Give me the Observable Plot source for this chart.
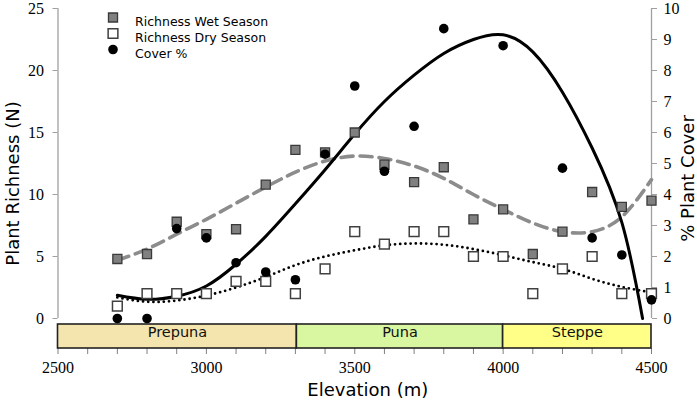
<!DOCTYPE html>
<html><head><meta charset="utf-8">
<script src="https://cdn.jsdelivr.net/npm/d3@7"></script>
<script src="https://cdn.jsdelivr.net/npm/@observablehq/plot@0.6"></script>
<style>body{margin:0;background:#fff}#chart{width:697px;height:408px}</style>
</head><body><div id="chart"></div>
<script>
// ---- data ----
const elevation    = [2700, 2800, 2900, 3000, 3100, 3200, 3300, 3400, 3500, 3600, 3700, 3800, 3900, 4000, 4100, 4200, 4300, 4400, 4500];
const richnessWet  = [4.8, 5.2, 7.8, 6.8, 7.2, 10.8, 13.6, 13.4, 15.0, 12.4, 11.0, 12.2, 8.0, 8.8, 5.2, 7.0, 10.2, 9.0, 9.5];
const richnessDry  = [1, 2, 2, 2, 3, 3, 2, 4, 7, 6, 7, 7, 5, 5, 2, 4, 5, 2, 2];
const coverPct     = [0, 0, 2.9, 2.6, 1.8, 1.5, 1.25, 5.3, 7.5, 4.75, 6.2, 9.35, null, 8.8, null, 4.85, 2.6, 2.05, 0.6];

// trend lines
const trendElevation = [2700, 2800, 2900, 3000, 3100, 3200, 3300, 3400, 3500, 3600, 3700, 3800, 3900, 4000, 4100, 4200, 4300, 4400, 4500];
const wetTrend   = [4.7, 5.6, 6.8, 8.0, 9.3, 10.6, 11.8, 12.7, 13.1, 12.9, 12.3, 11.3, 10.0, 8.8, 7.7, 7.0, 7.0, 8.2, 11.2];
const dryTrend   = [1.7, 1.35, 1.45, 1.85, 2.5, 3.35, 4.3, 5.0, 5.5, 5.9, 6.05, 5.95, 5.6, 5.1, 4.55, 4.0, 3.2, 2.55, 2.1];
const coverTrendElevation = [2700, 2800, 2900, 3000, 3100, 3200, 3300, 3400, 3500, 3600, 3700, 3800, 3900, 4000, 4100, 4200, 4300, 4400, 4470];
const coverTrend = [0.75, 0.62, 0.72, 1.05, 1.75, 2.65, 3.7, 4.8, 5.95, 7.0, 7.85, 8.55, 9.0, 9.15, 8.6, 7.3, 5.5, 3.1, 0];

// vegetation zones
const zoneNames  = ["Prepuna", "Puna", "Steppe"];
const zoneStart  = [2500, 3305, 4000];
const zoneEnd    = [3305, 4000, 4500];
const zoneColors = ["#f4e4ae", "#d9f6a0", "#ffff88"];

// axes
const xDomain = [2500, 4500];
const xTicks = [2500, 3000, 3500, 4000, 4500];
const xMinorTicks = [2500, 2600, 2700, 2800, 2900, 3000, 3100, 3200, 3300, 3400, 3500, 3600, 3700, 3800, 3900, 4000, 4100, 4200, 4300, 4400, 4500];
const richnessDomain = [0, 25];
const richnessTicks = [0, 5, 10, 15, 20, 25];
const coverDomain = [0, 10];
const coverTicks = [0, 1, 2, 3, 4, 5, 6, 7, 8, 9, 10];

const legendLabels = ["Richness Wet Season", "Richness Dry Season", "Cover %"];

// ---- build ----
const k = richnessDomain[1] / coverDomain[1]; // cover -> richness units
const pts = elevation.map((e, i) => ({e, wet: richnessWet[i], dry: richnessDry[i], cover: coverPct[i]}));
const wetLine = trendElevation.map((e, i) => ({e, v: wetTrend[i]}));
const dryLine = trendElevation.map((e, i) => ({e, v: dryTrend[i]}));
const coverLine = coverTrendElevation.map((e, i) => ({e, v: coverTrend[i] * k}));
const zones = zoneNames.map((n, i) => ({name: n, x1: zoneStart[i], x2: zoneEnd[i], color: zoneColors[i]}));

const wetStyle  = {symbol: "square", r: 5.1, fill: "#808080", stroke: "#3a3a3a", strokeWidth: 1.3};
const dryStyle  = {symbol: "square", r: 5.5, fill: "#ffffff", stroke: "#404040", strokeWidth: 1.5};
const covStyle  = {symbol: "circle", r: 4.8, fill: "#000000", stroke: "none"};
const legendStyles = [wetStyle, dryStyle, covStyle];

const serif = "Liberation Serif, DejaVu Serif, serif";
const sans = "DejaVu Sans, Verdana, sans-serif";

const legendMarks = legendLabels.flatMap((label, i) => [
  Plot.dot([label], {frameAnchor: "top-left", dx: 55, dy: 9 + 16 * i, ...legendStyles[i]}),
  Plot.text([label], {frameAnchor: "top-left", dx: 77, dy: 9 + 16 * i, text: d => d, textAnchor: "start", fontSize: 12.5, fontFamily: sans, fill: "#000"})
]);

const chart = Plot.plot({
  width: 697,
  height: 408,
  marginLeft: 57.5,
  marginRight: 46,
  marginTop: 8,
  marginBottom: 60,
  style: {fontFamily: sans, fontSize: "12px", background: "#fff", color: "#000"},
  x: {domain: xDomain, axis: null},
  y: {domain: richnessDomain, range: [318, 8], axis: null},
  marks: [
    // axis lines
    Plot.ruleX([xDomain[0]], {y1: richnessDomain[0], y2: richnessDomain[1], stroke: "#a0a0a0", strokeWidth: 1.3}),
    Plot.ruleX([xDomain[1]], {y1: richnessDomain[0], y2: richnessDomain[1], stroke: "#a0a0a0", strokeWidth: 1.3}),
    Plot.axisY(richnessTicks, {anchor: "left", tickSize: 5, tickPadding: 9, stroke: "#a0a0a0", fill: "#000", fontSize: 16, fontFamily: serif, label: null}),
    Plot.axisY(coverTicks.map(v => v * k), {anchor: "right", tickSize: 5, tickPadding: 7, stroke: "#a0a0a0", fill: "#000", fontSize: 16, fontFamily: serif, tickFormat: d => String(Math.round(d / k)), label: null}),
    Plot.axisX(xMinorTicks, {anchor: "bottom", tickSize: 6, tickPadding: 7, stroke: "#808080", fill: "#000", fontSize: 16, fontFamily: serif, tickFormat: d => xTicks.includes(d) ? String(d) : "", label: null}),
    // vegetation band
    Plot.rect(zones, {x1: "x1", x2: "x2", fill: "color", stroke: "#222", strokeWidth: 1.6, insetTop: 316}),
    Plot.text(zones, {x: d => (d.x1 + d.x2) / 2, text: "name", frameAnchor: "bottom", dy: -12, fontSize: 14.5, fontFamily: sans, fill: "#111"}),
    // trend lines
    Plot.line(wetLine, {x: "e", y: "v", curve: "natural", stroke: "#8c8c8c", strokeWidth: 3.6, strokeDasharray: "12,7"}),
    Plot.line(dryLine, {x: "e", y: "v", curve: "natural", stroke: "#000", strokeWidth: 2.8, strokeDasharray: "0,5.2", strokeLinecap: "round"}),
    Plot.line(coverLine, {x: "e", y: "v", curve: "natural", stroke: "#000", strokeWidth: 3}),
    // points
    Plot.dot(pts, {x: "e", y: "wet", ...wetStyle}),
    Plot.dot(pts, {x: "e", y: "dry", ...dryStyle}),
    Plot.dot(pts.filter(d => d.cover != null), {x: "e", y: d => d.cover * k, ...covStyle}),
    // legend
    ...legendMarks,
    // axis titles
    Plot.text(["Plant Richness (N)"], {frameAnchor: "left", textAnchor: "middle", dx: -45, dy: 5, rotate: -90, text: d => d, fontSize: 18, fontFamily: sans, fill: "#000"}),
    Plot.text(["% Plant Cover"], {frameAnchor: "right", textAnchor: "middle", dx: 37, dy: 0, rotate: -90, text: d => d, fontSize: 18, fontFamily: sans, fill: "#000"}),
    Plot.text(["Elevation (m)"], {frameAnchor: "bottom", textAnchor: "middle", dx: 13, dy: 47, text: d => d, fontSize: 18, fontFamily: sans, fill: "#000"})
  ]
});
document.getElementById("chart").appendChild(chart);
</script>
</body></html>
